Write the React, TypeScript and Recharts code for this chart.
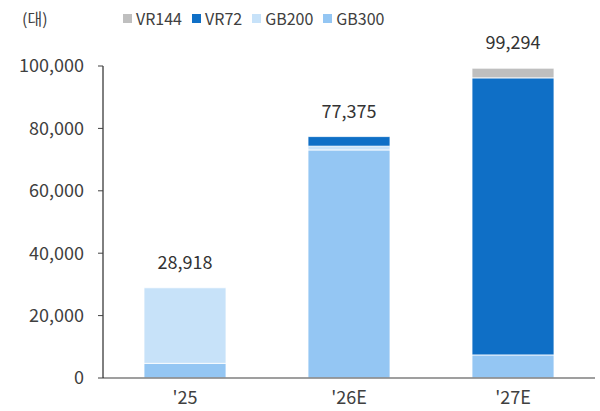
import { BarChart, Bar, XAxis, YAxis, LabelList } from 'recharts';

const years = ["'25", "'26E", "'27E"];
const gb300 = [4700, 73100, 7400];
const gb200 = [24218, 1200, 0];
const vr72 = [0, 3075, 88794];
const vr144 = [0, 0, 3100];
const totals = [28918, 77375, 99294];
const yTicks = [0, 20000, 40000, 60000, 80000, 100000];

const series = [
  { key: 'VR144', color: '#BFBFBF' },
  { key: 'VR72', color: '#0F6FC6' },
  { key: 'GB200', color: '#C7E2F9' },
  { key: 'GB300', color: '#94C6F3' },
];

const FONT = "'Noto Sans CJK KR', 'Noto Sans', sans-serif";

const data = years.map((year, i) => ({
  year,
  idx: i + 0.5,
  GB300: gb300[i],
  GB200: gb200[i],
  VR72: vr72[i],
  VR144: vr144[i],
}));

// which series sits on top of each stack
const topSeries = data.map((d) =>
  ['VR144', 'VR72', 'GB200', 'GB300'].find((k) => (d as any)[k] > 0)
);

function makeTotalLabel(seriesKey: string) {
  return (props: any) => {
    const { x, y, width, value } = props;
    const i = years.indexOf(value);
    if (i < 0 || topSeries[i] !== seriesKey) return null;
    return (
      <text
        x={x + width / 2}
        y={y - 19}
        textAnchor="middle"
        fontSize={18}
        fill="#333"
        fontFamily={FONT}
      >
        {totals[i].toLocaleString('en-US')}
      </text>
    );
  };
}

export default function App() {
  const barProps = { stackId: 'a', xAxisId: 'cat', stroke: '#fff', strokeWidth: 0.8, isAnimationActive: false };
  return (
    <div style={{ position: 'absolute', left: 0, top: 0, width: 600, height: 411, background: '#fff', fontFamily: FONT }}>
      <div style={{ position: 'absolute', left: 22, top: 6, fontSize: 16, color: '#404040' }}>(대)</div>
      <div style={{ position: 'absolute', left: 123, top: 6, display: 'flex', gap: 10, fontSize: 16, color: '#404040' }}>
        {series.map((s) => (
          <div key={s.key} style={{ display: 'flex', alignItems: 'center', gap: 4 }}>
            <div style={{ width: 9, height: 9, background: s.color }} />
            <span>{s.key}</span>
          </div>
        ))}
      </div>
      <BarChart
        width={600}
        height={411}
        data={data}
        margin={{ top: 66, right: 5, bottom: 3, left: 0 }}
        barCategoryGap="25%"
      >
        <XAxis
          dataKey="year"
          xAxisId="cat"
          axisLine={{ stroke: '#7f7f7f', strokeWidth: 1.5 }}
          tickLine={false}
          tick={{ fontSize: 18, fill: '#404040', fontFamily: FONT }}
          tickMargin={7}
          height={30}
        />
        <XAxis
          xAxisId="edge"
          type="number"
          dataKey="idx"
          domain={[0, 3]}
          ticks={[0, 1, 2, 3]}
          axisLine={false}
          tick={false}
          tickLine={{ stroke: '#404040' }}
          tickSize={5}
          height={0}
        />
        <YAxis
          domain={[0, 100000]}
          ticks={yTicks}
          width={103}
          axisLine={{ stroke: '#000' }}
          tickLine={{ stroke: '#404040' }}
          tickSize={5}
          tickMargin={14}
          tickFormatter={(v: number) => v.toLocaleString('en-US')}
          tick={{ fontSize: 18, fill: '#404040', fontFamily: FONT }}
        />
        <Bar dataKey="GB300" fill="#94C6F3" {...barProps}>
          <LabelList dataKey="year" content={makeTotalLabel('GB300')} />
        </Bar>
        <Bar dataKey="GB200" fill="#C7E2F9" {...barProps}>
          <LabelList dataKey="year" content={makeTotalLabel('GB200')} />
        </Bar>
        <Bar dataKey="VR72" fill="#0F6FC6" {...barProps}>
          <LabelList dataKey="year" content={makeTotalLabel('VR72')} />
        </Bar>
        <Bar dataKey="VR144" fill="#BFBFBF" {...barProps}>
          <LabelList dataKey="year" content={makeTotalLabel('VR144')} />
        </Bar>
      </BarChart>
    </div>
  );
}
